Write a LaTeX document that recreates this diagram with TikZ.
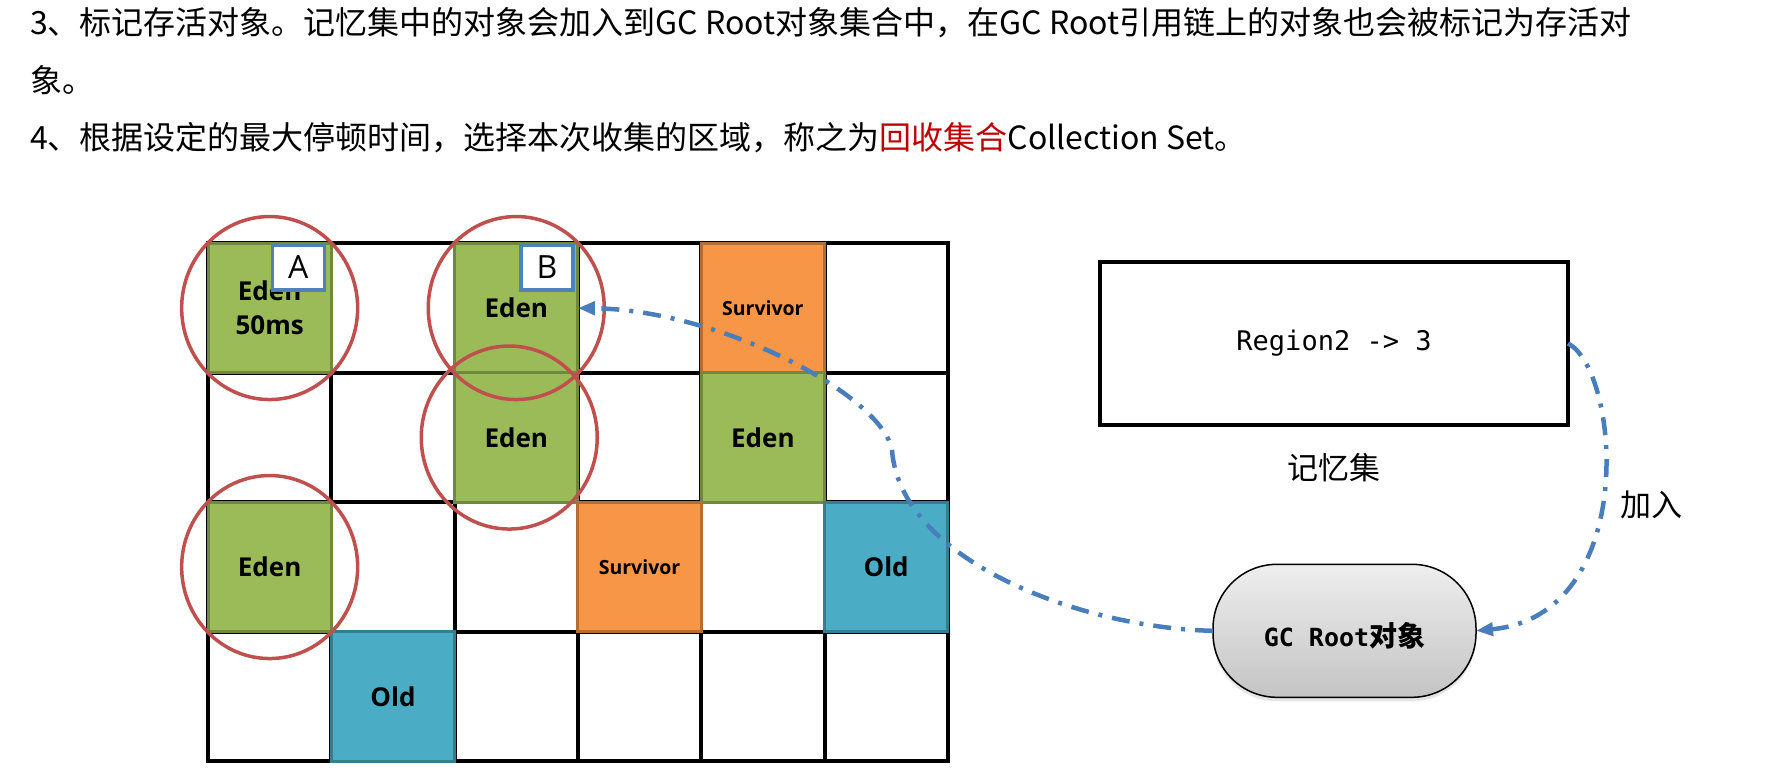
\documentclass[tikz,border=0pt]{standalone}
\usepackage{fontspec}
\setmainfont{Noto Sans CJK SC}
\newfontfamily\cellfont{Open Sans}
\newfontfamily\codefont{DejaVu Sans Mono}
\usetikzlibrary{arrows.meta,shadows,calc}
\definecolor{edenfill}{HTML}{9BBB59}
\definecolor{edenline}{HTML}{71893F}
\definecolor{survfill}{HTML}{F79646}
\definecolor{survline}{HTML}{B66D31}
\definecolor{oldfill}{HTML}{4BACC6}
\definecolor{oldline}{HTML}{357D91}
\definecolor{ringred}{HTML}{C0504D}
\definecolor{tagblue}{HTML}{4F81BD}
\definecolor{flowblue}{HTML}{4A7EBB}
\definecolor{hired}{HTML}{C00000}
\definecolor{gctop}{HTML}{EEEEEE}
\definecolor{gcbot}{HTML}{C4C4C4}
\newcommand\cellat[2]{({208+123.3*(#1+0.5)},{243.3+129.5*(#2+0.5)})}
\begin{document}
\begin{tikzpicture}[x=1pt,y=-1pt,
  every node/.style={outer sep=0pt},
  para/.style={anchor=base west, inner sep=0pt, font=\fontsize{32}{32}\selectfont},
  gridline/.style={draw=black, line width=4pt},
  cellbox/.style={minimum width=123.3pt, minimum height=129.5pt, inner sep=0pt, line width=3pt, align=center, font=\cellfont\bfseries\fontsize{26}{34}\selectfont},
  eden/.style={cellbox, fill=edenfill, draw=edenline},
  surv/.style={cellbox, fill=survfill, draw=survline, font=\cellfont\bfseries\fontsize{19.5}{24}\selectfont},
  old/.style={cellbox, fill=oldfill, draw=oldline},
  tagbox/.style={draw=tagblue, fill=white, line width=3.5pt, minimum width=52pt, minimum height=45pt, inner sep=0pt, anchor=north east, font=\cellfont\fontsize{32}{32}\selectfont},
  ring/.style={draw=ringred, line width=3.5pt},
  rsbox/.style={draw=black, line width=4pt, minimum width=468pt, minimum height=163pt, font=\codefont\fontsize{27}{27}\selectfont},
  gcnode/.style={draw=black, line width=1.5pt, rounded corners=64pt, minimum width=263pt, minimum height=133pt, top color=gctop, bottom color=gcbot, drop shadow={opacity=0.2, shadow xshift=0pt, shadow yshift=-4pt}, text height=32pt, text depth=0pt},
  flow/.style={draw=flowblue, line width=4.5pt, dash pattern=on 18pt off 10pt on 4pt off 10pt, -{Triangle[length=17pt,width=13pt]}},
  plain/.style={font=\fontsize{31}{31}\selectfont, inner sep=0pt}
]
\fill[white] (0,0) rectangle (1784,778);
\useasboundingbox (0,0) rectangle (1784,778);

% heading text
\node[para] (l1) at (30,35) {3、标记存活对象。记忆集中的对象会加入到GC Root对象集合中，在GC Root引用链上的对象也会被标记为存活对};
\node[para] (l2) at (30,93) {象。};
\node[para] (l3) at (30,150) {4、根据设定的最大停顿时间，选择本次收集的区域，称之为\textcolor{hired}{回收集合}Collection Set。};

% region grid
\foreach \i in {0,...,6} \draw[gridline] ({208+\i*123.3},243.3) -- ({208+\i*123.3},761.3);
\foreach \j in {0,...,4} \draw[gridline] (206,{243.3+\j*129.5}) -- (949.8,{243.3+\j*129.5});

% coloured regions
\node[eden] (e00) at \cellat{0}{0} {Eden\\50ms};
\node[eden] (e20) at \cellat{2}{0} {Eden};
\node[surv] (s40) at \cellat{4}{0} {Survivor};
\node[eden] (e21) at \cellat{2}{1} {Eden};
\node[eden] (e41) at \cellat{4}{1} {Eden};
\node[eden] (e02) at \cellat{0}{2} {Eden};
\node[surv] (s32) at \cellat{3}{2} {Survivor};
\node[old] (o52) at \cellat{5}{2} {Old};
\node[old] (o13) at \cellat{1}{3} {Old};

% tags
\node[tagbox] (tagA) at ($(e00.north east)+(-7,1.5)$) {A};
\node[tagbox] (tagB) at ($(e20.north east)+(-5,1.5)$) {B};

% red rings
\draw[ring] (e00.center) ellipse [x radius=88, y radius=91.5];
\draw[ring] (e20.center) ellipse [x radius=88, y radius=91.5];
\draw[ring] ($(e21.center)+(-7,0)$) ellipse [x radius=88, y radius=91.5];
\draw[ring] (e02.center) ellipse [x radius=88, y radius=91.5];

% remembered set
\node[rsbox] (rs) at (1334,343.5) {Region2 -> 3};
\node[plain] (rslabel) at (1334,468) {记忆集};

% GC root
\node[gcnode] (gc) at (1344.5,630.8) {{\codefont\bfseries\fontsize{25}{25}\selectfont GC Root}{\bfseries\fontsize{28}{28}\selectfont 对象}};

% flows
\coordinate (bend) at (892,450);
\draw[flow] (gc.west) .. controls (1080,628) and (900,560) .. (bend) .. controls (882,395) and (720,310) .. (e20.east);
\draw[flow] (rs.east) .. controls (1620,370) and (1640,615) .. (gc.east);
\node[plain] (join) at (1651,505) {加入};
\end{tikzpicture}
\end{document}
